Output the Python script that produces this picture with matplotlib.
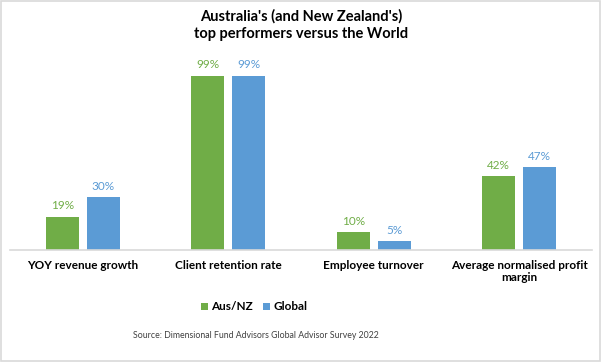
import numpy as np
import matplotlib.pyplot as plt
from matplotlib.patches import Rectangle

plt.rcParams['font.family'] = ['Lato', 'DejaVu Sans']

categories = ["YOY revenue growth", "Client retention rate", "Employee turnover",
              "Average normalised profit\nmargin"]
aus_nz = [19, 99, 10, 42]
global_vals = [30, 99, 5, 47]
series_names = ["Aus/NZ", "Global"]

green = '#70AD47'
blue = '#5B9BD5'

fig = plt.figure(figsize=(6.02, 3.62), dpi=100)
# outer border
fig.patches.append(Rectangle((0.002, 0.003), 0.995, 0.993, transform=fig.transFigure,
                             fill=False, edgecolor='#d9d9d9', linewidth=1.2))

# about 1.76 px per percent, baseline at y=250
ax = fig.add_axes([10 / 602, (362 - 250) / 362, 582 / 602, 211 / 362])

x = np.arange(len(categories))
w = 0.227
off = 0.141
b1 = ax.bar(x - off, aus_nz, w, color=green, label=series_names[0])
b2 = ax.bar(x + off, global_vals, w, color=blue, label=series_names[1])

for bars, vals, c in [(b1, aus_nz, green), (b2, global_vals, blue)]:
    for bar, v in zip(bars, vals):
        ax.annotate(f"{v}%", (bar.get_x() + bar.get_width() / 2, v),
                    xytext=(0, 4), textcoords='offset points', ha='center', va='bottom',
                    color=c, fontsize=8.5)

ax.set_xlim(-0.5, 3.5)
ax.set_ylim(0, 120)
ax.set_yticks([])
ax.set_xticks(x)
ax.set_xticklabels(categories, fontsize=8.5, fontweight='bold', color='#000000',
                   linespacing=1.15, va='top')
ax.tick_params(axis='x', length=0, pad=7)
for s in ['top', 'right', 'left']:
    ax.spines[s].set_visible(False)
ax.spines['bottom'].set_color('#d9d9d9')
ax.spines['bottom'].set_linewidth(1.2)

fig.text(0.5, 1 - 25 / 362, "Australia's (and New Zealand's)\ntop performers versus the World",
         ha='center', va='center', fontsize=10.5, fontweight='bold', linespacing=1.3)

fig.legend(handles=[b1, b2], loc='center', bbox_to_anchor=(254 / 602, 1 - 307 / 362),
           ncol=2, frameon=False, handlelength=0.6, handleheight=0.6,
           handletextpad=0.3, columnspacing=0.8, prop={'weight': 'bold', 'size': 8.5})

fig.text(256 / 602, 1 - 335 / 362, "Source: Dimensional Fund Advisors Global Advisor Survey 2022",
         ha='center', va='center', fontsize=6.3, color='#404040')

fig.savefig('out.png', dpi=100)
